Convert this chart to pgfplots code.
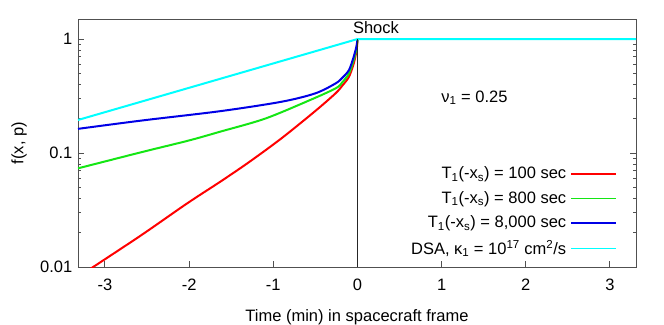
\documentclass[border=0pt]{standalone}
\usepackage{fontspec}
\setmainfont{Liberation Sans}
\usepackage{pgfplots}
\pgfplotsset{compat=1.18}
\definecolor{cred}{RGB}{255,0,0}
\definecolor{cgreen}{RGB}{20,230,20}
\definecolor{cblue}{RGB}{0,0,230}
\definecolor{ccyan}{RGB}{0,255,255}
\definecolor{framegray}{RGB}{80,80,80}
\begin{document}
\fontsize{16.5bp}{19bp}\selectfont
\begin{tikzpicture}
\begin{axis}[name=ax, scale only axis, width=558bp, height=248bp,
  ymode=log, xmin=-3.32, xmax=3.31, ymin=0.01, ymax=1.5,
  xtick={-3,-2,-1,0,1,2,3}, xticklabels={-3,-2,-1,0,1,2,3},
  ytick={0.01,0.1,1}, yticklabels={0.01,0.1,1},
  minor ytick={0.02,0.03,0.04,0.05,0.06,0.07,0.08,0.09,0.2,0.3,0.4,0.5,0.6,0.7,0.8,0.9},
  xtick pos=bottom, ytick pos=both, tick align=inside,
  major tick length=6bp, minor tick length=3bp,
  axis line style={framegray, line width=0.9bp},
  every tick/.style={framegray, line width=0.9bp},
  xticklabel style={yshift=-6bp},
  xlabel={Time (min) in spacecraft frame}, ylabel={f(x, p)},
  xlabel style={at={([yshift=-50bp]rel axis cs:0.5,0)}, anchor=center},
  ylabel style={at={([xshift=-59bp]rel axis cs:0,0.5)}, anchor=center},
  legend plot pos=right, legend cell align=right,
  legend style={draw=none, fill=none, at={(rel axis cs:1,0)}, anchor=south east,
    xshift=-16bp, yshift=6bp, row sep=6bp, column sep=2bp,
    font=\fontsize{16.5bp}{19bp}\selectfont},
  legend image code/.code={\draw[line width=1.6bp, #1] (0bp,0bp) -- (45bp,0bp);},
]
\addplot[cred, line width=2bp, smooth, tension=0.5] coordinates {
  (-3.32,0.0082) (-3.14,0.010) (-2.56,0.0192) (-2.02,0.0363) (-1.63,0.056)
  (-1.29,0.083) (-0.9,0.135) (-0.5,0.234) (-0.26,0.334) (-0.18,0.39)
  (-0.10,0.467) (-0.044,0.61) (-0.015,0.76) (-0.004,0.87) (0,1)
};
\addlegendentry{T\textsubscript{1}(-x\textsubscript{s}) = 100 sec}
\addplot[cgreen, line width=2bp, smooth, tension=0.5] coordinates {
  (-3.32,0.0734) (-2.56,0.102) (-2.0,0.129) (-1.63,0.154) (-1.1,0.200)
  (-0.58,0.288) (-0.26,0.369) (-0.18,0.417) (-0.10,0.50) (-0.044,0.655)
  (-0.015,0.80) (-0.004,0.90) (0,1)
};
\addlegendentry{T\textsubscript{1}(-x\textsubscript{s}) = 800 sec}
\addplot[cblue, line width=2bp, smooth, tension=0.5] coordinates {
  (-3.32,0.163) (-2.56,0.193) (-1.63,0.233) (-0.9,0.282) (-0.5,0.334)
  (-0.26,0.408) (-0.18,0.457) (-0.10,0.535) (-0.044,0.70) (-0.015,0.84)
  (-0.004,0.93) (0,1)
};
\addlegendentry{T\textsubscript{1}(-x\textsubscript{s}) = 8,000 sec}
\addplot[ccyan, line width=2bp] coordinates {
  (-3.32,0.195) (0,1) (3.31,1)
};
\addlegendentry{DSA, κ\textsubscript{1} = 10\textsuperscript{17} cm\textsuperscript{2}/s}
\addplot[black!85, line width=1.5bp, forget plot] coordinates {(0,0.01) (0,1)};
\node[anchor=base] at (axis cs:0.22,1.13) {Shock};
\node[anchor=base] at (axis cs:1.39,0.28) {ν\textsubscript{1} = 0.25};
\end{axis}
\pgfresetboundingbox
\path[use as bounding box] ([xshift=-78bp,yshift=-58bp]ax.south west) rectangle ([xshift=28bp,yshift=19bp]ax.north east);
\end{tikzpicture}
\end{document}
